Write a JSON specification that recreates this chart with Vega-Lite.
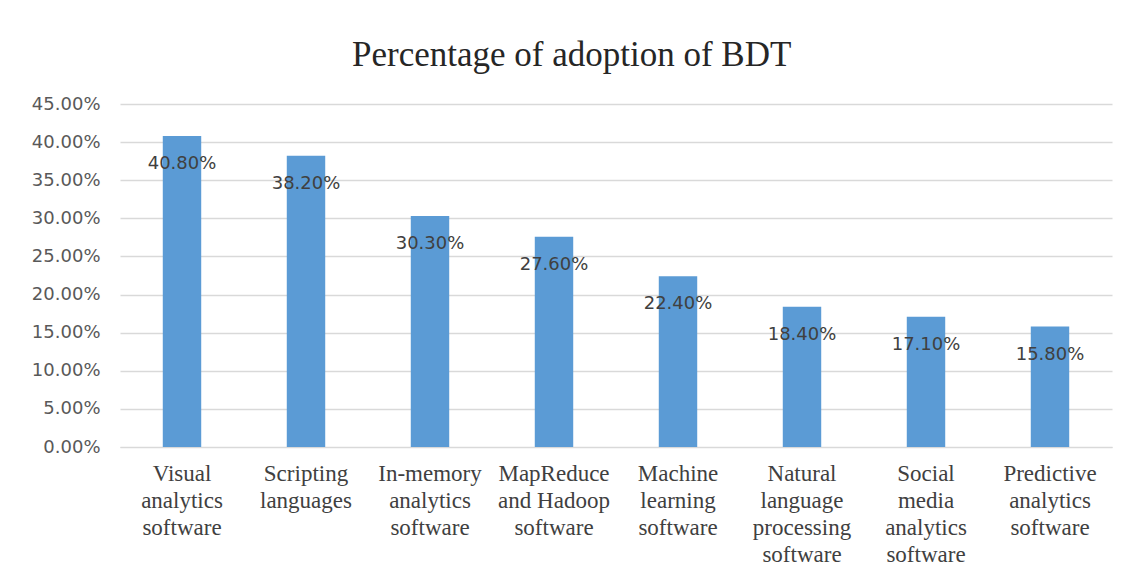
{
  "$schema": "https://vega.github.io/schema/vega-lite/v6.json",
  "autosize": "none",
  "width": 992,
  "height": 343,
  "padding": {"left": 120, "top": 104, "right": 23, "bottom": 132},
  "background": "white",
  "title": {
    "text": "Percentage of adoption of BDT",
    "font": "Liberation Serif",
    "fontSize": 35,
    "fontWeight": "normal",
    "color": "#262626",
    "anchor": "middle",
    "frame": "bounds",
    "baseline": "alphabetic",
    "offset": -6
  },
  "data": {
    "values": [
      {"technology": "Visual analytics software", "adoption": 0.408},
      {"technology": "Scripting languages", "adoption": 0.382},
      {"technology": "In-memory analytics software", "adoption": 0.303},
      {"technology": "MapReduce and Hadoop software", "adoption": 0.276},
      {"technology": "Machine learning software", "adoption": 0.224},
      {"technology": "Natural language processing software", "adoption": 0.184},
      {"technology": "Social media analytics software", "adoption": 0.171},
      {"technology": "Predictive analytics software", "adoption": 0.158}
    ]
  },
  "encoding": {
    "x": {
      "field": "technology",
      "type": "nominal",
      "sort": null,
      "scale": {"paddingInner": 0.69, "paddingOuter": 0.345},
      "axis": {
        "title": null,
        "labelAngle": 0,
        "labelFont": "Liberation Serif",
        "labelFontSize": 23,
        "labelColor": "#404040",
        "labelLineHeight": 27,
        "labelPadding": 15,
        "labelExpr": "split(replace(datum.label, 'and Hadoop', 'and\u00a0Hadoop'), ' ')",
        "ticks": false,
        "domain": true,
        "domainColor": "#d9d9d9",
        "labelLimit": 200
      }
    },
    "y": {
      "field": "adoption",
      "type": "quantitative",
      "scale": {"domain": [0, 0.45], "nice": false},
      "axis": {
        "title": null,
        "values": [0, 0.05, 0.1, 0.15, 0.2, 0.25, 0.3, 0.35, 0.4, 0.45],
        "format": ".2%",
        "labelFont": "DejaVu Sans",
        "labelFontSize": 18,
        "labelColor": "#595959",
        "labelPadding": 20,
        "ticks": false,
        "domain": false,
        "grid": true,
        "gridColor": "#d9d9d9",
        "gridWidth": 1.3
      }
    }
  },
  "layer": [
    {"mark": {"type": "bar", "color": "#5B9BD5"}},
    {
      "mark": {
        "type": "text",
        "baseline": "middle",
        "dy": 28,
        "font": "DejaVu Sans",
        "fontSize": 18,
        "color": "#404040"
      },
      "encoding": {
        "text": {"field": "adoption", "type": "quantitative", "format": ".2%"}
      }
    }
  ],
  "config": {"view": {"stroke": null}}
}
